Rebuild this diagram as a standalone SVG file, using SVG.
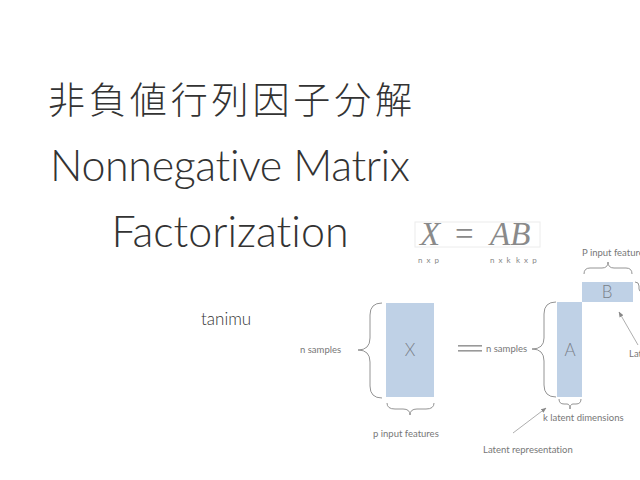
<svg xmlns="http://www.w3.org/2000/svg" width="640" height="480" viewBox="0 0 640 480">
<defs>
<style>
text{font-variant-ligatures:none;font-feature-settings:"liga" 0;}
.title{font-family:"Lato","Noto Sans CJK JP",sans-serif;font-weight:300;fill:#333;}
.cjk{font-family:"Noto Sans CJK JP",sans-serif;font-weight:300;fill:#333;}
.lbl{font-family:"Lato","Noto Sans",sans-serif;font-size:9.5px;fill:#777;}
.dim{font-family:"Lato","Noto Sans",sans-serif;font-size:8px;fill:#888;letter-spacing:1px;}
.mat{fill:#bfd1e6;}
.matl{font-family:"Lato","Noto Sans",sans-serif;font-size:17px;fill:#7a7f88;text-anchor:middle;font-weight:300;}
.brace{fill:none;stroke:#888;stroke-width:0.9;}
.math{font-family:"Liberation Serif",serif;font-size:33px;fill:#8a8a8a;font-style:italic;}
.arrow{stroke:#999;stroke-width:0.8;fill:none;marker-end:url(#ah);}
</style>
<marker id="ah" viewBox="0 0 10 10" refX="9" refY="5" markerWidth="7" markerHeight="7" orient="auto">
<path d="M0,1 L10,5 L0,9 z" fill="#888"/>
</marker>
</defs>
<rect width="640" height="480" fill="#fff"/>

<g id="title">
<text class="cjk" x="48" y="114" font-size="37" textLength="364">非負値行列因子分解</text>
<text class="title" x="50" y="181" font-size="43" textLength="360">Nonnegative Matrix</text>
<text class="title" x="230" y="247" font-size="43" text-anchor="middle">Factorization</text>
</g>

<g id="author">
<text class="title" x="201" y="325" font-size="17" font-weight="400">tanimu</text>
</g>

<g id="formula">
<rect x="415" y="222" width="125" height="25" fill="none" stroke="#ececec" stroke-width="1"/>
<text class="math" x="420" y="245">X</text>
<text x="455" y="245" font-family="Liberation Serif,serif" font-size="33" fill="#8a8a8a">=</text>
<text class="math" x="490" y="245">AB</text>
<text class="dim" x="418" y="263">n x p</text>
<text class="dim" x="490" y="263">n x k</text>
<text class="dim" x="516" y="263">k x p</text>
</g>

<g id="matrixX">
<rect class="mat" x="386" y="303" width="48" height="94"/>
<text class="matl" x="410" y="356">X</text>
<path class="brace" d="M382,303 Q370,303 370,315 L370,338 Q370,350 358,350 Q370,350 370,362 L370,386 Q370,398 382,398"/>
<path class="brace" d="M387,403 Q387,409 395,409 L403,409 Q410,409 410,415 Q410,409 417,409 L426,409 Q434,409 434,403"/>
<text class="lbl" x="300" y="353">n samples</text>
<text class="lbl" x="373" y="437">p input features</text>
</g>

<g id="equals">
<rect x="458" y="345" width="24" height="1.6" fill="#999"/>
<rect x="458" y="350" width="24" height="1.6" fill="#999"/>
</g>

<g id="matrixA">
<rect class="mat" x="557" y="302" width="25" height="95"/>
<text class="matl" x="570" y="356">A</text>
<path class="brace" d="M556,302 Q544,302 544,314 L544,338 Q544,349 532,349 Q544,349 544,361 L544,385 Q544,397 556,397"/>
<path class="brace" d="M559,399 Q559,404 564,404 L567,404 Q570,404 570,409 Q570,404 573,404 L576,404 Q581,404 581,399"/>
<text class="lbl" x="486" y="352">n samples</text>
<text class="lbl" x="543" y="421">k latent dimensions</text>
<text class="lbl" x="483" y="453">Latent representation</text>
</g>

<g id="matrixB">
<rect class="mat" x="582" y="282" width="51" height="20"/>
<text class="matl" x="607" y="298">B</text>
<path class="brace" d="M584,274 Q584,268 590,268 L602,268 Q608,268 608,262 Q608,268 614,268 L626,268 Q632,268 632,274"/>
<path class="brace" d="M635,282 Q639,282 639,286 L639,289 Q639,292 643,292"/>
<text class="lbl" x="582" y="256">P input features</text>
<text class="lbl" x="629" y="357">Latent components</text>
</g>

<g id="connectors">
<path class="arrow" d="M513,433 L546,408"/>
<path class="arrow" d="M638,345 L619,312"/>
</g>
</svg>
